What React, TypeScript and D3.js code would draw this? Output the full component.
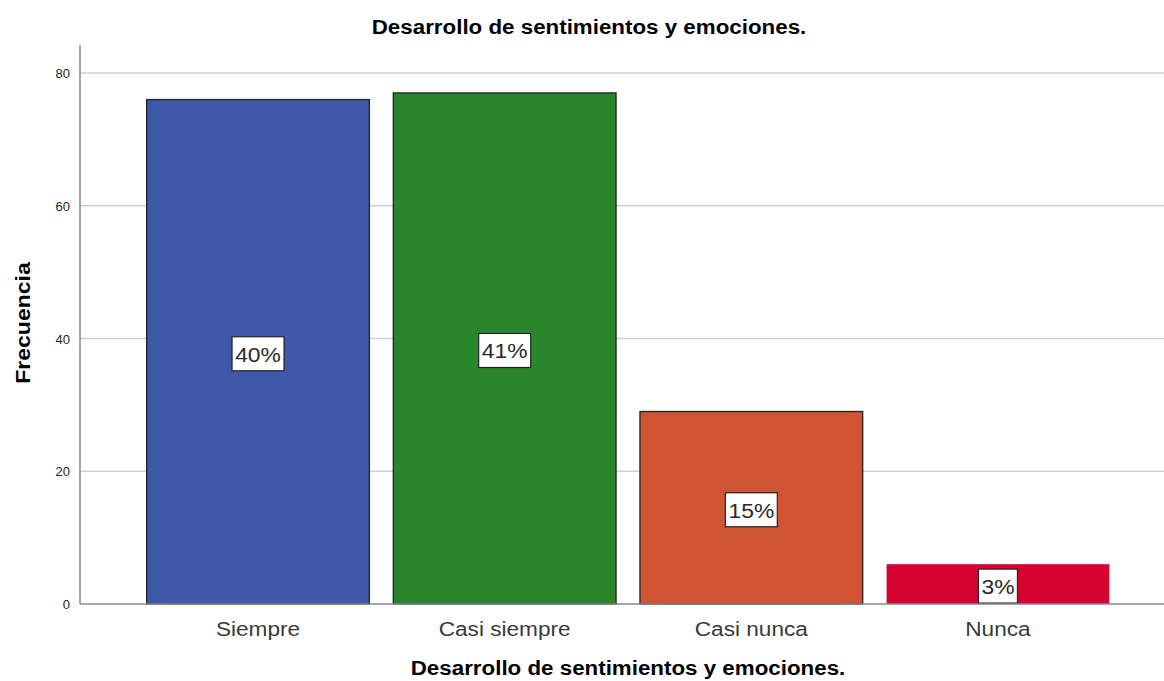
import React from "react";
import * as d3 from "d3";

const categories = ["Siempre", "Casi siempre", "Casi nunca", "Nunca"];
const values = [76, 77, 29, 6];
const percentLabels = ["40%", "41%", "15%", "3%"];
const colors = ["#3e59a7", "#29862a", "#d15434", "#d50130"];
const strokes = ["#222", "#222", "#222", "none"];
const yTicks = [0, 20, 40, 60, 80];

const W = 1164;
const H = 681;

export default function App() {
  const left = 80;
  const right = 1164;
  const top = 45;
  const bottom = 604;
  const y = d3.scaleLinear().domain([0, 80]).range([bottom, 73]);
  const x = d3
    .scaleBand()
    .domain(categories)
    .range([122, 1134])
    .paddingInner(0.097)
    .paddingOuter(0.1);
  const font = "'Liberation Sans', Arial, sans-serif";
  return (
    <svg
      width={W}
      height={H}
      style={{ position: "absolute", left: 0, top: 0 }}
      fontFamily={font}
    >
      <rect width={W} height={H} fill="#fff" />
      <text
        transform="translate(589,34) scale(1.09,1)"
        textAnchor="middle"
        fontSize={20.5}
        fontWeight="bold"
        fill="#000"
      >
        Desarrollo de sentimientos y emociones.
      </text>
      {yTicks.map((t) => (
        <g key={t}>
          {t > 0 && (
            <line x1={left} x2={right} y1={y(t)} y2={y(t)} stroke="#cfcfcf" strokeWidth={1.5} />
          )}
          <text x={70} y={y(t) + 5} textAnchor="end" fontSize={13} fill="#222">
            {t}
          </text>
        </g>
      ))}
      {categories.map((c, i) => {
        const bx = x(c)!;
        const bw = x.bandwidth();
        const by = y(values[i]);
        const mid = Math.min(y(values[i] / 2) + 2, bottom - 17);
        const bwLabel = percentLabels[i].length === 2 ? 39 : 52;
        return (
          <g key={c}>
            <rect
              x={bx}
              y={by}
              width={bw}
              height={bottom - by}
              fill={colors[i]}
              stroke={strokes[i]}
              strokeWidth={1.3}
            />
            <rect
              x={bx + bw / 2 - bwLabel / 2}
              y={mid - 17}
              width={bwLabel}
              height={34}
              fill="#fff"
              stroke="#222"
              strokeWidth={1.2}
            />
            <text
              transform={`translate(${bx + bw / 2},${mid + 8}) scale(1.09,1)`}
              textAnchor="middle"
              fontSize={21}
              fill="#2a2a2a"
            >
              {percentLabels[i]}
            </text>
            <text
              transform={`translate(${bx + bw / 2},636) scale(1.16,1)`}
              textAnchor="middle"
              fontSize={19.5}
              fill="#3a3a3a"
            >
              {c}
            </text>
          </g>
        );
      })}
      <line x1={left} x2={left} y1={top} y2={bottom} stroke="#888" strokeWidth={1.5} />
      <line x1={left} x2={right} y1={bottom} y2={bottom} stroke="#888" strokeWidth={1.5} />
      <text
        transform={`translate(30,323) rotate(-90) scale(1.15,1)`}
        textAnchor="middle"
        fontSize={20}
        fontWeight="bold"
        fill="#000"
      >
        Frecuencia
      </text>
      <text
        transform="translate(628,675) scale(1.09,1)"
        textAnchor="middle"
        fontSize={20.5}
        fontWeight="bold"
        fill="#000"
      >
        Desarrollo de sentimientos y emociones.
      </text>
    </svg>
  );
}
